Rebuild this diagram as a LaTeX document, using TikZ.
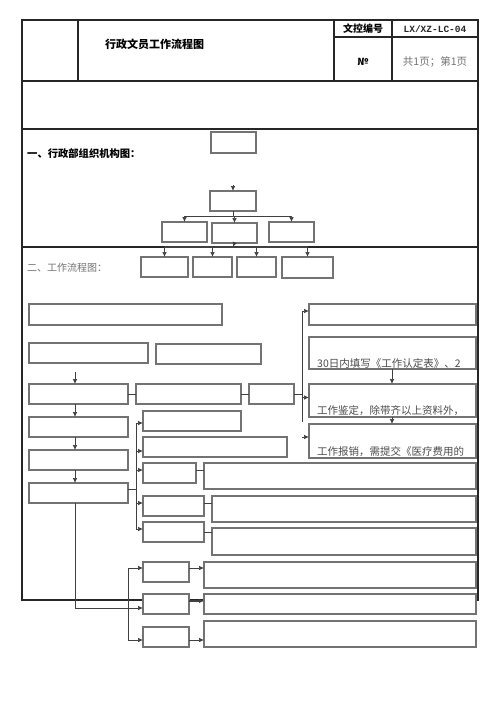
\documentclass[tikz,border=0pt]{standalone}
\usepackage{fontspec}
\newfontfamily\cjk{Noto Sans CJK SC}
\newfontfamily\mono{Liberation Mono}
\usetikzlibrary{arrows.meta,calc}
\newcommand\bx[5]{\node[box,anchor=north west,minimum width={(#4-#2)*1pt},minimum height={(#5-#3)*1pt}] (#1) at (#2,#3) {};}
\begin{document}
\begin{tikzpicture}[x=1pt,y=-1pt,
  frame/.style={draw=black!85,line width=1.2pt},
  box/.style={draw=black!55,line width=1.1pt,fill=white,inner sep=0pt,outer sep=0pt},
  ln/.style={draw=black!75,line width=0.7pt},
  arr/.style={ln,-{Latex[length=5pt,width=4.5pt]}},
  lbl/.style={font=\cjk\fontsize{10}{12}\selectfont,inner sep=0pt},
  boxtxt/.style={lbl,font=\cjk\fontsize{10.5}{12}\selectfont,text=black!70,anchor=west}]
\fill[white] (0,0) rectangle (500,707);
\useasboundingbox (0,0) rectangle (500,707);
% frame
\draw[frame] (22,20) rectangle (478,600);
\draw[frame] (22,81) -- (478,81);
\draw[frame] (22,129) -- (478,129);
\draw[frame] (22,247) -- (478,247);
\draw[frame] (78,20) -- (78,81);
\draw[frame] (334,20) -- (334,81);
\draw[frame] (392,20) -- (392,81);
\draw[frame] (334,37) -- (478,37);
% header texts
\node[lbl,font=\cjk\bfseries\fontsize{11}{13}\selectfont,anchor=west] (title) at (105,44) {行政文员工作流程图};
\node[lbl,font=\cjk\bfseries\fontsize{10}{12}\selectfont] (wk) at (363,29) {文控编号};
\node[lbl,text=black!85,font=\mono\bfseries\fontsize{9.5}{11}\selectfont] (code) at (435,29) {LX/XZ-LC-04};
\node[lbl,font=\cjk\bfseries\fontsize{10}{12}\selectfont] (no) at (363,62) {№};
\node[lbl,text=black!55,font=\cjk\fontsize{10.5}{12}\selectfont] (pg) at (435,62) {共1页；第1页};
% section labels
\node[lbl,font=\cjk\bfseries\fontsize{10.3}{12}\selectfont,anchor=west] (s1) at (27,154) {一、行政部组织机构图：};
\node[lbl,text=black!55,font=\cjk\fontsize{10}{12}\selectfont,anchor=west] (s2) at (27,268) {二、工作流程图：};
% org chart
\bx{o1}{211}{132}{256}{153}
\bx{o2}{210}{191}{256}{211}
\bx{o3}{162}{222}{207}{242}
\bx{o4}{212}{223}{257}{243}
\bx{o5}{269}{222}{314}{242}
\coordinate (ost) at (233,185);
\draw[arr] (ost) -- (ost |- o2.north);
\coordinate (bus1) at (233,216);
\draw[ln] (o2.south) -- (bus1);
\draw[ln] (o3.north |- bus1) -- (o5.north |- bus1);
\draw[arr] (o3.north |- bus1) -- (o3.north);
\draw[arr] (o4.north |- bus1) -- (o4.north);
\draw[arr] (o5.north |- bus1) -- (o5.north);
\bx{p1}{141}{257}{188}{277}
\bx{p2}{193}{257}{232}{277}
\bx{p3}{237}{257}{276}{277}
\bx{p4}{282}{257}{333}{278}
\coordinate (bus2) at (233,247);
\draw[arr] (o4.south) -- (bus2);
\draw[ln,line width=1.2pt] (p1.north |- bus2) -- (p4.north |- bus2);
\draw[arr] (p1.north |- bus2) -- (p1.north);
\draw[arr] (p2.north |- bus2) -- (p2.north);
\draw[arr] (p3.north |- bus2) -- (p3.north);
\draw[arr] (p4.north |- bus2) -- (p4.north);
% flow boxes
\bx{A}{29}{304}{222}{325}
\bx{R1}{309}{304}{476}{325}
\bx{B1}{29}{343}{148}{363}
\bx{B2}{156}{344}{261}{364}
\bx{R2}{309}{337}{476}{369}
\bx{C1}{29}{384}{128}{404}
\bx{C2}{136}{384}{241}{404}
\bx{C3}{249}{384}{294}{404}
\bx{R3}{309}{384}{476}{417}
\bx{R4}{309}{424}{476}{458}
\bx{D1}{29}{417}{128}{437}
\bx{E1}{29}{450}{128}{470}
\bx{F1}{29}{483}{128}{503}
\bx{M1}{143}{411}{241}{431}
\bx{M2}{143}{437}{287}{457}
\bx{M3}{143}{463}{196}{483}
\bx{M4}{143}{496}{204}{516}
\bx{M5}{143}{522}{204}{542}
\bx{L3}{204}{463}{476}{489}
\bx{L4}{212}{496}{476}{522}
\bx{L5}{212}{528}{476}{555}
\bx{M6}{143}{562}{189}{582}
\bx{L6}{204}{562}{476}{588}
\bx{M8}{143}{627}{189}{647}
\bx{L8}{204}{621}{476}{647}
% box texts
\node[boxtxt] (t2) at ($(R2.south west)+(8,-6)$) {30日内填写《工作认定表》、2};
\node[boxtxt] (t3) at ($(R3.south west)+(8,-6)$) {工作鉴定，除带齐以上资料外，};
\node[boxtxt] (t4) at ($(R4.south west)+(8,-6)$) {工作报销，需提交《医疗费用的};
% right bus
\coordinate (rt) at (302,311);
\coordinate (rb) at (302,422);
\draw[ln] (rt) -- (rb);
\draw[arr] (rt) -- (rt -| R1.west);
\draw[ln] (C1.east) -- (C2.west);
\draw[ln] (C2.east) -- (C3.east -| C3.west);
\draw[ln] (C3.east) -- (C3.east -| rt);
\draw[arr] ($(R3.west -| rt)+(0,-3)$) -- ($(R3.west)+(0,-3)$);
\coordinate (r4s) at (302,437);
\draw[arr] (r4s) -- (r4s -| R4.west);
\coordinate (rc) at (392,369);
\draw[arr] (R2.south -| rc) -- (R3.north -| rc);
\draw[arr] (R3.south -| rc) -- (R4.north -| rc);
% left column
\coordinate (lc) at (75,372);
\draw[arr] (lc) -- (lc |- C1.north);
\draw[arr] (C1.south -| lc) -- (D1.north -| lc);
\draw[arr] (D1.south -| lc) -- (E1.north -| lc);
\draw[arr] (E1.south -| lc) -- (F1.north -| lc);
% middle bus
\coordinate (mt) at (136,423);
\coordinate (mb) at (136,529);
\draw[ln] (mt) -- (mb);
\draw[ln] ($(F1.east)+(0,-4)$) -- ($(F1.east -| mt)+(0,-4)$);
\draw[arr] (mt) -- (mt -| M1.west);
\draw[arr] ($(M2.west -| mt)+(0,4)$) -- ($(M2.west)+(0,4)$);
\draw[arr] ($(M3.west -| mt)+(0,-3)$) -- ($(M3.west)+(0,-3)$);
\draw[arr] ($(M4.west -| mt)+(0,-3)$) -- ($(M4.west)+(0,-3)$);
\draw[arr] (mb) -- (mb -| M5.west);
\draw[ln] ($(M3.east)+(0,-3)$) -- ($(M3.east -| L3.west)+(0,-3)$);
\draw[ln] ($(M4.east)+(0,-3)$) -- ($(M4.east -| L4.west)+(0,-3)$);
\draw[ln] (M5.east) -- (M5.east -| L5.west);
% lower part
\bx{M7}{143}{594}{189}{614}
\bx{L7}{204}{594}{476}{614}
\coordinate (lt) at (128,568);
\coordinate (lb) at (128,640);
\draw[ln] (lt) -- (lb);
\draw[arr] (lt) -- (lt -| M6.west);
\draw[arr] (lb) -- (lb -| M8.west);
\coordinate (fb) at (75,608);
\draw[ln] (F1.south -| lc) -- (fb);
\draw[arr] (fb) -- (fb -| M7.west);
\draw[arr] ($(M6.east)+(0,-4)$) -- ($(M6.east -| L6.west)+(0,-4)$);
\draw[arr,line width=1.2pt] ($(M7.east)+(0,-3)$) -- ($(M7.east -| L7.west)+(0,-3)$);
\draw[arr] ($(M8.east)+(0,3)$) -- ($(M8.east -| L8.west)+(0,3)$);
\end{tikzpicture}
\end{document}
